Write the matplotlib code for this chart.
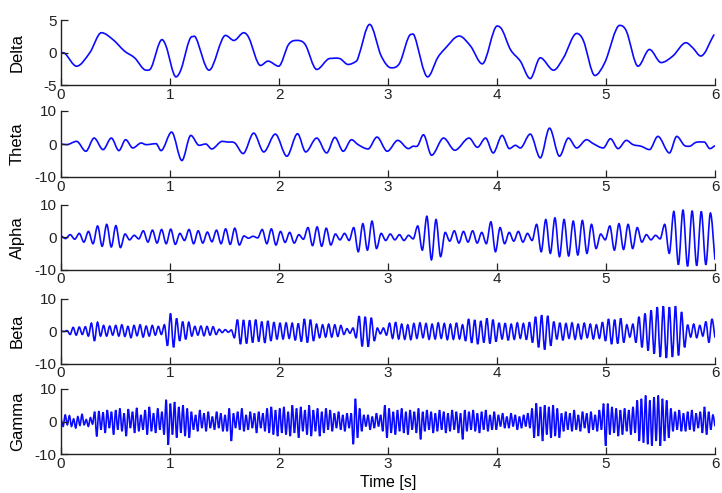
import numpy as np
import matplotlib
matplotlib.use('Agg')
import matplotlib.pyplot as plt
from matplotlib.path import Path
from matplotlib.patches import PathPatch

plt.rcParams['font.family'] = ['Liberation Sans', 'DejaVu Sans']

band_names = ['Delta', 'Theta', 'Alpha', 'Beta', 'Gamma']
y_limits = [5, 10, 10, 10, 10]
x_ticks = [0, 1, 2, 3, 4, 5, 6]

# delta: turning points (time s, value)
delta_t = [0.0, 0.036, 0.143, 0.264, 0.371, 0.477, 0.583, 0.675, 0.781, 0.827,
           0.927, 0.964, 1.055, 1.100, 1.201, 1.237, 1.358, 1.510, 1.586, 1.677,
           1.723, 1.830, 1.899, 1.997, 2.088, 2.163, 2.240, 2.346, 2.468, 2.559,
           2.634, 2.710, 2.726, 2.832, 2.938, 3.029, 3.106, 3.211, 3.242, 3.364,
           3.455, 3.516, 3.653, 3.758, 3.865, 4.002, 4.047, 4.123, 4.214, 4.305,
           4.397, 4.519, 4.610, 4.731, 4.792, 4.898, 4.989, 5.126, 5.187, 5.294,
           5.399, 5.506, 5.613, 5.734, 5.795, 5.870, 5.992]
delta_v = [0.0, -0.1, -2.05, 0.0, 3.06, 2.0, 0.25, -0.77, -2.66, -2.3,
           2.0, 1.0, -3.68, -2.6, 2.45, 2.3, -2.66, 2.65, 1.88, 3.06,
           2.3, -1.94, -1.28, -2.05, 1.27, 1.88, 1.27, -2.55, -0.87, -0.9,
           -1.79, -1.28, -0.77, 4.33, -0.5, -2.3, -1.6, 2.8, 2.6, -3.68,
           -0.77, 0.5, 2.55, 1.0, -1.69, 4.08, 3.5, 0.5, -1.28, -3.94,
           -0.77, -2.66, -0.77, 2.95, 1.88, -3.47, -1.5, 4.18, 3.3, -2.05,
           0.5, -1.5, -0.5, 1.53, 0.77, -0.5, 2.8]

theta_t = [0.0, 0.052, 0.143, 0.228, 0.304, 0.386, 0.462, 0.531, 0.593, 0.659,
           0.736, 0.781, 0.872, 0.918, 1.015, 1.109, 1.191, 1.267, 1.328, 1.383,
           1.479, 1.525, 1.595, 1.671, 1.768, 1.860, 1.966, 2.072, 2.170, 2.245,
           2.346, 2.437, 2.513, 2.589, 2.665, 2.726, 2.817, 2.899, 2.993, 3.090,
           3.188, 3.227, 3.273, 3.325, 3.400, 3.510, 3.613, 3.744, 3.820, 3.895,
           3.965, 4.047, 4.114, 4.169, 4.214, 4.305, 4.397, 4.482, 4.573, 4.655,
           4.731, 4.822, 4.883, 4.975, 5.041, 5.111, 5.187, 5.248, 5.324, 5.399,
           5.476, 5.582, 5.649, 5.718, 5.764, 5.825, 5.901, 5.953, 6.0]
theta_v = [0.0, -0.2, 0.8, -2.2, 1.8, -1.7, 1.8, -2.0, 1.3, -1.2,
           0.3, -0.2, 0.1, -2.0, 3.6, -5.0, 2.6, -0.4, 0.0, -1.5,
           0.8, 0.6, 0.3, -2.9, 3.3, -2.4, 3.0, -3.7, 3.1, -2.4,
           1.8, -2.7, 2.0, -2.2, 1.3, -0.2, -1.5, 2.1, -2.2, 1.1,
           -1.4, -0.7, -0.5, 2.8, -3.4, 1.8, -1.9, 1.8, -1.0, 1.8,
           -2.7, 2.6, -1.4, -0.4, -1.2, 3.0, -4.2, 4.8, -3.7, 1.8,
           -1.2, 1.3, 0.1, -1.2, 1.6, -1.4, 1.1, -0.2, -0.7, -1.7,
           2.3, -2.7, 2.3, -0.4, -0.7, 0.5, 0.6, -1.4, -0.5]

# faster bands: successive peak / trough values, evenly spaced over 0..6 s
# (one row per half second)
alpha_v = [
    0.5, -0.4, 0.8, -0.6, 1.2, -1.5, 1.8, -2.0, 3.5, -2.8, 4.0, -3.0,
    3.6, -3.2, 1.0, -0.8, 0.6, -0.5, 2.0, -1.5, 2.2, -1.8, 2.4, -2.0,
    2.5, -2.2, 1.2, -1.0, 2.4, -2.0, 2.0, -1.8, 1.6, -1.4, 2.2, -2.0,
    2.6, -2.2, 2.8, -2.4, 0.4, -0.3, 0.3, -0.2, 2.4, -2.0, 2.6, -2.4,
    1.8, -1.6, 1.5, -1.8, 0.8, -0.6, 3.0, -2.6, 3.2, -2.8, 2.8, -2.4,
    1.0, -0.8, 1.2, -1.0, 3.0, -4.5, 4.2, -4.0, 5.0, -3.5, 1.2, -1.0,
    1.0, -0.8, 0.8, -1.0, 0.6, -0.5, 3.5, -4.0, 6.5, -7.0, 5.5, -6.0,
    1.5, -1.2, 2.0, -1.8, 1.8, -1.5, 2.0, -1.8, 1.5, -2.0, 4.8, -4.5,
    3.0, -2.0, 1.5, -1.2, 1.8, -1.5, 1.2, -1.0, 4.0, -4.5, 5.5, -5.0,
    6.0, -6.0, 5.5, -5.8, 5.0, -5.5, 5.2, -5.0, 4.0, -3.5, 1.0, -0.8,
    3.5, -4.0, 4.2, -3.8, 4.0, -3.5, 3.0, -1.5, 0.8, -0.8, 0.6, -0.5,
    4.0, -5.0, 8.0, -8.5, 8.5, -9.0, 8.2, -8.8, 8.0, -8.5, 7.5, -7.0,
]

beta_v = [
    0.1, -0.1, 0.2, -1.0, 1.2, -1.2, 1.3, -1.0, 1.4, -1.5, 2.5, -3.0, 2.8, -1.5, 1.8, -1.5, 1.6, -1.2,
    1.8, -1.5, 2.0, -1.6, 1.5, -2.0, 1.8, -1.4, 2.0, -1.8, 1.6, -1.5, 1.8, -1.2, 1.5, -1.0, 2.0, -4.5,
    5.5, -5.0, 4.0, -3.0, 3.0, -2.5, 2.8, -1.5, 1.5, -1.2, 1.6, -1.4, 1.5, -1.2, 1.4, -1.0, 0.6, -0.4,
    0.5, -0.3, 0.4, -2.0, 3.6, -4.0, 3.5, -3.8, 3.4, -3.5, 3.6, -3.2, 3.0, -3.6, 3.2, -3.0, 2.8, -2.5,
    2.5, -2.4, 2.6, -2.2, 2.5, -2.8, 2.4, -3.2, 3.8, -3.5, 3.6, -3.0, 2.2, -2.0, 2.0, -1.8, 2.2, -1.8,
    2.0, -1.6, 1.8, -1.0, 0.8, -0.6, 1.0, -2.0, 4.7, -4.7, 4.5, -4.8, 4.2, -3.0, 1.0, -0.8, 1.0, -1.2,
    2.5, -2.2, 2.8, -2.4, 2.2, -2.5, 2.0, -2.6, 2.4, -2.2, 2.6, -2.0, 2.4, -2.5, 2.2, -2.4, 2.6, -2.2,
    2.4, -2.6, 2.2, -2.5, 2.6, -2.4, 2.0, -3.0, 3.8, -3.6, 3.5, -4.0, 3.2, -3.5, 4.0, -3.8, 3.6, -3.2,
    2.6, -2.4, 2.5, -2.8, 2.2, -2.5, 2.6, -2.2, 2.4, -2.6, 2.8, -3.5, 4.5, -5.0, 5.0, -5.7, 4.8, -4.5,
    3.0, -2.5, 2.6, -2.8, 2.4, -2.2, 2.6, -2.5, 2.2, -2.4, 2.5, -2.0, 2.2, -2.4, 2.0, -2.2, 2.8, -3.0,
    3.8, -4.0, 3.6, -3.8, 4.0, -3.5, 2.0, -1.8, 2.2, -3.5, 4.5, -5.0, 5.5, -6.0, 6.5, -7.0, 7.5, -8.0,
    7.8, -8.3, 7.5, -8.0, 7.8, -7.5, 6.0, -5.0, 2.0, -1.8, 2.2, -2.0, 1.8, -1.5, 3.0, -3.5, 3.8, -2.0,
]

gamma_v = [
    1.0, -1.5, 2.0, -1.0, 1.8, -1.5, 0.8, -2.0, 1.5, -1.2, 2.2, -1.0, 0.6, -1.5, 1.2, -0.8, 3.0, -4.6, 3.2, -2.5, 2.8, -3.5, 3.5, -2.0, 3.0, -4.0,
    3.5, -2.5, 4.0, -3.0, 2.5, -4.5, 3.8, -2.0, 3.0, -3.5, 4.2, -3.0, 2.0, -2.5, 3.5, -4.0, 4.5, -3.0, 2.5, -3.5, 4.0, -2.5, 3.0, -4.0, 6.7, -7.2,
    5.5, -4.0, 6.0, -5.0, 4.5, -3.5, 5.0, -4.5, 4.0, -5.0, 3.0, -2.5, 2.0, -3.0, 3.5, -2.0, 2.5, -3.0, 3.0, -2.0, 1.5, -2.5, 3.0, -2.0, 2.5, -3.0,
    2.0, -3.0, 4.0, -6.0, 2.5, -2.0, 3.0, -2.5, 4.0, -3.0, 2.0, -2.5, 3.0, -2.0, 2.5, -3.5, 3.0, -2.0, 2.5, -3.0, 4.0, -3.5, 4.5, -4.0, 3.5, -4.5,
    4.0, -3.5, 4.5, -4.0, 3.0, -4.5, 5.0, -3.5, 4.0, -5.0, 4.5, -3.0, 3.5, -4.0, 5.0, -4.5, 3.5, -3.0, 4.0, -4.5, 3.0, -3.5, 4.0, -2.5, 3.5, -3.0,
    2.5, -2.0, 3.0, -2.5, 2.0, -3.0, 2.5, -2.0, 2.5, -7.0, 7.0, -5.0, 4.0, -3.0, 2.0, -1.5, 2.0, -2.5, 1.5, -2.0, 2.5, -1.5, 2.0, -3.0, 5.0, -5.0,
    4.0, -3.5, 3.0, -4.0, 3.5, -3.0, 4.0, -3.5, 3.0, -4.0, 3.5, -2.5, 3.0, -3.5, 4.0, -5.5, 3.0, -3.0, 3.5, -2.5, 3.0, -3.5, 2.5, -3.0, 3.5, -2.5,
    3.0, -3.5, 2.5, -3.0, 3.5, -2.5, 3.0, -3.5, 2.5, -5.5, 3.5, -3.0, 3.0, -2.5, 3.5, -3.0, 2.5, -3.5, 3.0, -2.5, 3.5, -3.0, 2.0, -2.5, 3.0, -2.5,
    2.0, -1.5, 2.5, -2.0, 1.5, -2.0, 2.5, -1.5, 2.0, -2.5, 1.5, -2.0, 2.0, -1.5, 2.5, -2.0, 4.0, -5.0, 5.6, -4.5, 4.5, -6.0, 5.0, -4.0, 4.5, -5.0,
    5.0, -4.5, 4.0, -5.0, 2.5, -3.0, 3.0, -2.5, 2.5, -3.0, 3.5, -2.5, 2.0, -3.0, 3.0, -2.0, 2.5, -3.5, 3.0, -2.5, 2.0, -3.0, 3.5, -2.5, 5.5, -7.5,
    5.5, -4.0, 4.5, -3.5, 4.0, -4.5, 3.5, -4.0, 4.0, -3.0, 3.5, -4.0, 4.5, -3.5, 6.5, -6.0, 7.0, -6.5, 8.0, -7.0, 6.5, -7.5, 7.5, -6.0, 8.0, -7.5,
    7.0, -6.0, 6.5, -5.0, 4.0, -3.0, 3.0, -2.5, 3.5, -3.0, 2.5, -3.0, 3.0, -2.5, 3.5, -3.0, 2.5, -2.0, 3.0, -3.5, 4.5, -4.0, 3.0, -2.5, 2.0, -1.5,
]

series = [
    (delta_t, delta_v),
    (theta_t, theta_v),
    (np.linspace(0, 6, len(alpha_v)), alpha_v),
    (np.linspace(0, 6, len(beta_v)), beta_v),
    (np.linspace(0, 6, len(gamma_v)), gamma_v),
]


def smooth_path(t, v):
    # cubic bezier through the read points, flat tangent at peaks/troughs
    t = np.asarray(t, float)
    v = np.asarray(v, float)
    n = len(t)
    m = np.zeros(n)
    for i in range(n):
        if i == 0:
            m[i] = (v[1] - v[0]) / (t[1] - t[0])
        elif i == n - 1:
            m[i] = (v[-1] - v[-2]) / (t[-1] - t[-2])
        elif (v[i] - v[i - 1]) * (v[i + 1] - v[i]) > 0:
            m[i] = (v[i + 1] - v[i - 1]) / (t[i + 1] - t[i - 1])
    verts = [(t[0], v[0])]
    codes = [Path.MOVETO]
    for i in range(n - 1):
        h = (t[i + 1] - t[i]) / 3
        verts += [(t[i] + h, v[i] + m[i] * h),
                  (t[i + 1] - h, v[i + 1] - m[i + 1] * h),
                  (t[i + 1], v[i + 1])]
        codes += [Path.CURVE4] * 3
    return Path(verts, codes)


fig = plt.figure(figsize=(7.22, 4.93), dpi=100)
W, H = 722.0, 493.0
left, right = 61, 715
# top / bottom pixel rows of each panel
rows = [(20, 85.5), (111, 177), (205, 269.5), (299, 363.5), (389, 454)]

for i, name in enumerate(band_names):
    top, bot = rows[i]
    ax = fig.add_axes([left / W, 1 - bot / H, (right - left) / W, (bot - top) / H])
    t, v = series[i]
    ax.add_patch(PathPatch(smooth_path(t, v), fill=False,
                           edgecolor='#0a0aff', lw=1.2))
    lim = y_limits[i]
    ax.set_xlim(0, 6)
    ax.set_ylim(-lim, lim)
    ax.set_xticks(x_ticks)
    ax.set_yticks([-lim, 0, lim])
    ax.set_yticklabels(['-%d' % lim, '0', '%d' % lim])
    for s in ['top', 'right']:
        ax.spines[s].set_visible(False)
    for s in ['left', 'bottom']:
        ax.spines[s].set_color('#222222')
        ax.spines[s].set_linewidth(1.0)
    ax.tick_params(direction='in', length=5, width=0.9, labelsize=11,
                   colors='#222222')
    ax.tick_params(axis='x', pad=2)
    ax.tick_params(axis='y', pad=3)
    ax.set_ylabel(name, fontsize=12)
    ax.yaxis.set_label_coords(-0.055, 0.5)
    if i == len(band_names) - 1:
        ax.set_xlabel('Time [s]', fontsize=11.5, labelpad=3)

fig.savefig('out.png', dpi=100)
